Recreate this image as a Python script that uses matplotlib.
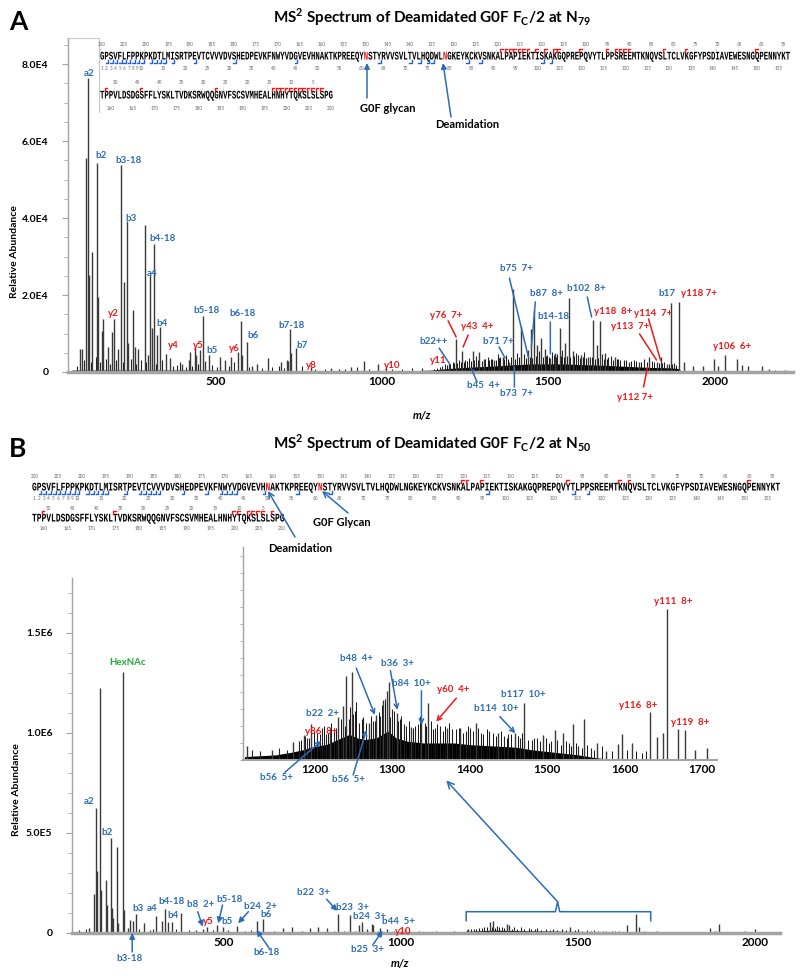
import matplotlib.pyplot as plt
import numpy as np
from matplotlib.font_manager import FontProperties
from matplotlib.patches import ConnectionPatch, PathPatch
from matplotlib.textpath import TextPath
from matplotlib.ticker import FixedLocator, FixedFormatter, MultipleLocator
from matplotlib.transforms import Affine2D

plt.rcParams["font.family"] = ["Lato", "DejaVu Sans"]
plt.rcParams["mathtext.fontset"] = "custom"
plt.rcParams["mathtext.rm"] = "Lato:bold"
plt.rcParams["mathtext.bf"] = "Lato:bold"

BLUE = "#2b6cb8"
RED = "#f01818"
GREEN = "#1fae3c"
GREY = "#a3a3a3"

# ---- sequence of Fc/2 ----
seq_row1 = ("GPSVFLFPPKPKDTLMISRTPEVTCVVVDVSHEDPEVKFNWYVDGVEVHNAKTKPREEQY"
            "NSTYRVVSVLTVLHQDWLNGKEYKCKVSNKALPAPIEKTISKAKGQPREPQVYTLPPSRE"
            "EMTKNQVSLTCLVKGFYPSDIAVEWESNGQPENNYKT")
seq_row2 = "TPPVLDSDGSFFLYSKLTVDKSRWQQGNVFSCSVMHEALHNHYTQKSLSLSPG"

red_n_a = [61, 79]
b_sites_a = [2, 3, 4, 5, 6, 7, 8, 9, 10, 12, 13, 14, 15, 17, 22, 31, 45, 64,
             71, 73, 75, 76, 84, 87, 101, 103]
y_sites_a = [92, 93, 94, 95, 96, 97, 98, 100, 102, 104, 105, 110, 116, 118,
             119, 120, 121, 129, 134, 150, 159, 167, 184, 197, 198, 199, 200,
             201, 202, 203, 204, 205, 206, 207, 208]

red_n_b = [50, 61]
b_sites_b = [2, 3, 4, 5, 6, 7, 8, 9, 10, 12, 13, 14, 15, 16, 20, 23, 24, 25,
             26, 27, 32, 37, 40, 41, 42, 43, 49, 56, 63, 96, 114, 117]
y_sites_b = [91, 92, 95, 113, 124, 126, 151, 160, 175, 200, 201, 203, 204,
             205, 206, 208]

# ---- panel A spectrum (m/z, abundance) ----
a1_mz = [93, 98, 111, 117, 121, 130, 145, 148, 159, 163, 177, 189, 196, 208,
         216, 226, 235, 238, 252, 258, 268, 287, 297, 304, 309, 315, 325, 334,
         351, 364]
a1_h = [6000, 6000, 55600, 76400, 25200, 31200, 54300, 19500, 10700, 13800,
        6500, 10400, 13800, 6000, 53800, 23400, 39300, 7500, 16100, 6500, 6000,
        38200, 4400, 25200, 11400, 33300, 9600, 11700, 4700, 3600]
a2_mz = [400, 419, 423, 438, 443, 453, 463, 470, 480, 515, 530, 548, 567, 576,
         580, 595, 611, 626, 657, 696, 714, 718, 724, 726, 743, 786, 846, 907,
         945, 987, 1012]
a2_h = [2000, 3000, 5200, 6500, 4400, 5700, 14600, 2900, 4400, 3900, 3100,
        3900, 5200, 13300, 4400, 7800, 1500, 2000, 3600, 2500, 3000, 2800,
        11200, 4900, 6200, 1200, 1000, 1200, 2900, 2200, 1500]
a3_mz = [1202, 1223, 1241, 1273, 1293, 1307, 1337, 1363, 1383, 1395, 1419,
         1439, 1447, 1457, 1467, 1479, 1489, 1506, 1519, 1534, 1549, 1562,
         1574, 1599, 1619, 1635, 1645, 1654, 1669, 1699]
a3_h = [2300, 8600, 5500, 5500, 5200, 3500, 3000, 3900, 2500, 21600, 12000,
        5700, 11200, 16100, 7000, 8800, 6000, 3600, 5000, 11400, 7500, 19200,
        5500, 4500, 4000, 13500, 7000, 13300, 5000, 3900]
a4_mz = [1741, 1771, 1801, 1825, 1837, 1855, 1868, 1894, 1909, 1936, 1966,
         1998, 2011, 2031, 2066, 2081, 2101, 2142, 2162, 2182, 2212]
a4_h = [2500, 2500, 3900, 2500, 3900, 2000, 17900, 18200, 2500, 1500, 1500,
        3400, 1500, 4400, 3400, 1800, 1600, 1500, 800, 500, 500]
a_grass_mz = [1180, 1190, 1213, 1232, 1250, 1262, 1283, 1300, 1318, 1328, 1348,
              1356, 1372, 1405, 1428, 1472, 1497, 1512, 1527, 1541, 1556, 1582,
              1590, 1608, 1626, 1662, 1680, 1688, 1710, 1726, 1757, 1788, 1812,
              1848, 1878]
a_grass_h = [1500, 2000, 2600, 3000, 3200, 3600, 4200, 2800, 4000, 3500, 4600,
             3800, 4400, 5000, 4800, 5400, 4400, 5200, 4600, 5800, 4200, 5000,
             4500, 5200, 4000, 4600, 3800, 4200, 3500, 3200, 3000, 3300, 2800,
             2600, 2400]
a_grass2_mz = [1158, 1166, 1174, 1196, 1206, 1218, 1227, 1237, 1246, 1257,
               1268, 1278, 1288, 1311, 1322, 1332, 1342, 1352, 1368, 1378,
               1389, 1401, 1411, 1433, 1444, 1452, 1462, 1484, 1494, 1502,
               1516, 1524, 1538, 1546, 1566, 1578, 1594, 1604, 1614, 1630,
               1640, 1650, 1666, 1675, 1693, 1705, 1716, 1733, 1748, 1764,
               1779, 1795, 1818, 1832, 1842, 1862, 1872, 1884]
a_grass2_h = [800, 1000, 1200, 1800, 2100, 2300, 2400, 2600, 2700, 2900, 2800,
              3100, 3000, 3300, 3100, 3400, 3200, 3600, 3300, 3500, 3900, 3400,
              3800, 3600, 4000, 3700, 4200, 3900, 4100, 3800, 4300, 3900, 4200,
              4000, 3800, 4100, 3700, 3900, 3600, 3800, 3500, 3700, 3400, 3500,
              3200, 3300, 3000, 3100, 2800, 2900, 2600, 2700, 2500, 2400, 2300,
              2200, 2100, 1900]
a_low_mz = [84, 105, 126, 140, 153, 170, 184, 200, 222, 245, 262, 275, 292,
            320, 340, 372, 383, 392, 410, 430, 448, 490, 505, 540, 555, 600,
            640, 670, 690, 705, 760, 800, 830, 870, 890, 925, 960, 1030, 1060,
            1090, 1120]
a_low_h = [1500, 3000, 2500, 4000, 2500, 3500, 2000, 3000, 2500, 3500, 2000,
           3000, 2500, 2000, 3000, 1500, 1800, 2500, 1200, 1500, 2000, 1800,
           1200, 1500, 2500, 1200, 1000, 1200, 1500, 1000, 1500, 800, 900, 700,
           800, 1200, 900, 800, 900, 1000, 1100]
env_a_mz = [57, 70, 400, 700, 1000, 1100, 1150, 1200, 1250, 1300, 1350, 1400,
            1450, 1500, 1550, 1600, 1650, 1700, 1750, 1800, 1860, 1890, 1900,
            2235]
env_a_h = [0, 500, 500, 350, 300, 350, 500, 900, 1200, 1400, 1600, 1900, 2100,
           2100, 2100, 1900, 1800, 1600, 1400, 1200, 1100, 900, 200, 150]

# ---- panel B spectrum ----
b1_mz = [120, 133, 138, 142, 150, 154, 166, 170, 180, 184, 187, 197, 201, 216,
         217, 230, 236, 244, 253, 274, 308, 324, 333, 343, 352, 379]
b1_h = [25000, 195000, 625000, 310000, 1225000, 215000, 265000, 140000,
        475000, 125000, 75000, 430000, 50000, 1305000, 115000, 25000, 65000,
        60000, 95000, 50000, 85000, 60000, 120000, 55000, 55000, 100000]
b2_mz = [420, 442, 451, 479, 498, 512, 538, 592, 611, 668, 691, 743, 766, 790,
         823, 856, 882, 889, 903, 917, 922, 941, 960, 1002, 1011]
b2_h = [15000, 20000, 30000, 40000, 30000, 15000, 35000, 60000, 70000, 25000,
        30000, 25000, 30000, 25000, 95000, 90000, 40000, 55000, 20000, 45000,
        40000, 25000, 20000, 15000, 20000]
b3_mz = [1251, 1261, 1298, 1305, 1477, 1638, 1663, 1673, 1722, 1746, 1774,
         1802, 1830, 1849, 1873, 1887, 1897, 1920, 1972, 2000, 2033]
b3_h = [55000, 60000, 45000, 40000, 30000, 40000, 95000, 30000, 8000, 6000,
        5000, 6000, 5000, 6000, 25000, 8000, 45000, 6000, 8000, 20000, 5000]
b_grass_mz = [1190, 1205, 1220, 1235, 1270, 1285, 1320, 1340, 1360, 1385, 1410,
              1430, 1455, 1500, 1525, 1545, 1570, 1595, 1615]
b_grass_h = [20000, 22000, 25000, 30000, 35000, 30000, 30000, 28000, 25000,
             24000, 22000, 20000, 20000, 18000, 16000, 15000, 12000, 10000,
             8000]
b_grass2_mz = [1185, 1198, 1212, 1228, 1242, 1256, 1266, 1278, 1292, 1312,
               1328, 1348, 1368, 1378, 1395, 1420, 1440, 1465, 1490, 1512,
               1535, 1555, 1580, 1605, 1625, 1650, 1685]
b_grass2_h = [15000, 18000, 20000, 24000, 28000, 30000, 26000, 28000, 24000,
              22000, 20000, 22000, 20000, 18000, 17000, 16000, 15000, 14000,
              13000, 12000, 11000, 10000, 9000, 8000, 7000, 6000, 8000]
b_low_mz = [90, 110, 260, 290, 300, 365, 400, 470, 560, 575, 640, 720, 810,
            840, 870, 935, 980, 1050, 1100, 1150]
b_low_h = [15000, 20000, 20000, 15000, 20000, 20000, 15000, 15000, 10000,
           15000, 10000, 10000, 12000, 10000, 12000, 12000, 10000, 8000, 8000,
           8000]
env_b_mz = [71, 90, 200, 600, 1000, 1150, 1180, 1230, 1260, 1300, 1350, 1400,
            1450, 1500, 1560, 1600, 1700, 1720, 2070]
env_b_h = [0, 6000, 6000, 5000, 5000, 5000, 8000, 12000, 14000, 13000, 11000,
           10000, 9000, 8000, 6000, 4000, 3000, 1500, 1000]

# ---- panel B inset (zoom 1100-1720) ----
ins_mz = [1113, 1145, 1173, 1186, 1196, 1220, 1231, 1237, 1241, 1248, 1271,
          1280, 1289, 1294, 1296, 1306, 1325, 1338, 1347, 1371, 1388, 1408,
          1437, 1459, 1470, 1495, 1510, 1521, 1534, 1548, 1564, 1576, 1591,
          1596, 1609, 1633, 1642, 1650, 1655, 1669, 1678, 1691, 1706]
ins_h = [0.82, 0.59, 1.08, 1.47, 2.1, 1.86, 2.55, 3.14, 4.94, 5.14, 2.16,
         2.65, 3.53, 4.02, 4.55, 2.78, 1.96, 2.35, 3.37, 1.86, 1.86, 2.16,
         1.57, 1.57, 3.37, 1.47, 1.76, 1.57, 2.1, 2.39, 1.0, 0.55, 0.94, 1.5,
         1.0, 2.84, 1.37, 1.57, 8.86, 1.8, 1.76, 0.59, 0.69]
ins_grass_mz = [1120, 1130, 1155, 1165, 1180, 1190, 1203, 1210, 1215, 1225,
                1244, 1252, 1258, 1263, 1276, 1285, 1300, 1310, 1315, 1330,
                1342, 1355, 1362, 1378, 1395, 1400, 1415, 1425, 1445, 1450,
                1465, 1480, 1487, 1505, 1528, 1540, 1556]
ins_grass_h = [0.6, 0.5, 0.7, 0.6, 1.1, 1.3, 1.6, 1.9, 1.5, 1.8, 2.4, 2.9, 2.2,
               2.5, 2.3, 2.6, 3.0, 2.4, 2.1, 2.0, 2.2, 1.9, 2.0, 1.8, 1.7, 1.9,
               1.6, 1.7, 1.4, 1.5, 1.3, 1.2, 1.3, 1.1, 1.0, 0.8, 0.7]
ins_grass2_mz = [1183, 1188, 1193, 1199, 1207, 1212, 1218, 1222, 1228, 1234,
                 1239, 1246, 1250, 1254, 1261, 1267, 1273, 1278, 1283, 1287,
                 1291, 1298, 1303, 1308, 1312, 1318, 1322, 1327, 1333, 1336,
                 1344, 1350, 1353, 1358, 1366, 1369, 1374, 1382, 1386, 1391,
                 1398, 1404, 1411, 1418, 1422, 1430, 1434, 1441, 1448, 1453,
                 1462, 1467, 1475, 1483, 1491, 1498, 1502, 1513, 1518, 1525,
                 1531, 1537, 1545, 1552, 1560, 1571, 1584, 1603, 1615, 1622,
                 1628]
ins_grass2_h = [1.2, 1.4, 1.3, 1.7, 1.5, 2.0, 1.6, 2.2, 1.9, 2.4, 2.0, 3.1,
                2.7, 3.4, 2.4, 2.2, 2.6, 2.3, 2.8, 3.2, 3.6, 2.5, 2.9, 2.3,
                2.6, 2.0, 2.3, 1.9, 2.1, 2.6, 2.0, 2.3, 1.8, 2.1, 1.7, 2.0,
                2.2, 1.8, 1.9, 1.6, 2.0, 1.7, 1.9, 1.5, 1.8, 1.6, 1.4, 1.7,
                1.3, 1.5, 1.4, 1.6, 1.2, 1.3, 1.1, 1.3, 1.0, 1.2, 0.9, 1.1,
                0.8, 1.0, 0.7, 0.9, 0.6, 0.8, 0.5, 0.6, 0.5, 0.4, 0.5]
env_in_mz = [1110, 1150, 1170, 1185, 1200, 1215, 1230, 1245, 1255, 1265, 1280,
             1295, 1305, 1320, 1340, 1360, 1380, 1400, 1420, 1440, 1460, 1480,
             1500, 1520, 1540, 1560, 1580, 1600, 1719]
env_in_h = [0.2, 0.3, 0.45, 0.6, 0.8, 0.9, 1.2, 1.5, 1.3, 1.2, 1.3, 1.7, 1.3,
            1.1, 1.0, 1.0, 1.0, 0.9, 0.85, 0.8, 0.75, 0.6, 0.5, 0.4, 0.3, 0.15,
            0.05, 0.03, 0.03]

# ---- fragment labels (text, m/z, height, colour) ----
labels_a = [
    ("a2", 120, 77700, BLUE), ("b2", 157, 56200, BLUE),
    ("b3-18", 238, 54900, BLUE), ("b3", 246, 40000, BLUE),
    ("b4-18", 340, 34800, BLUE), ("a4", 309, 25500, BLUE),
    ("y2", 193, 15100, RED), ("b4", 340, 12500, BLUE),
    ("y4", 373, 7000, RED), ("y5", 449, 7000, RED),
    ("b5", 491, 5700, BLUE), ("b5-18", 473, 15900, BLUE),
    ("y6", 557, 6200, RED), ("b6-18", 580, 15300, BLUE),
    ("b6", 614, 9600, BLUE), ("b7-18", 729, 12200, BLUE),
    ("b7", 759, 7000, BLUE), ("y8", 789, 1600, RED),
    ("y10", 1030, 1600, RED), ("y11", 1169, 3100, RED),
    ("b22++", 1154, 7800, BLUE), ("y76  7+", 1193, 14800, RED),
    ("y43  4+", 1286, 11700, RED), ("b71 7+", 1349, 7800, BLUE),
    ("b75  7+", 1404, 27000, BLUE), ("b73  7+", 1404, -5500, BLUE),
    ("b45  4+", 1304, -3600, BLUE), ("b87  8+", 1494, 20500, BLUE),
    ("b14-18", 1515, 14300, BLUE), ("b102  8+", 1614, 21600, BLUE),
    ("y118  8+", 1696, 15600, RED), ("y113  7+", 1747, 11700, RED),
    ("y114  7+", 1816, 15100, RED), ("b17", 1855, 20500, BLUE),
    ("y118 7+", 1952, 20500, RED), ("y106  6+", 2051, 6500, RED),
    ("y112 7+", 1759, -6500, RED),
]
leaders_a = [
    (1172, 6200, 1202, 2300, BLUE), (1199, 13300, 1223, 9100, RED),
    (1259, 9600, 1244, 6500, RED), (1352, 6500, 1370, 3600, BLUE),
    (1383, 24400, 1440, 3900, BLUE), (1398, 1300, 1398, -3900, BLUE),
    (1268, 1000, 1286, -2600, BLUE), (1461, 18200, 1449, 6500, BLUE),
    (1506, 13000, 1506, 4700, BLUE), (1617, 19500, 1630, 14300, BLUE),
    (1774, 9900, 1825, 3100, RED), (1801, 13800, 1837, 3100, RED),
    (1798, 1300, 1786, -3900, RED),
]
labels_b = [
    ("a2", 120, 657500, BLUE), ("HexNAc", 228, 1351500, GREEN),
    ("b2", 170, 501500, BLUE), ("b3", 256, 121500, BLUE),
    ("a4", 297, 121500, BLUE), ("b4-18", 353, 155000, BLUE),
    ("b4", 355, 85000, BLUE), ("b3-18", 234, -128500, BLUE),
    ("b8  2+", 435, 141500, BLUE), ("y5", 456, 56500, RED),
    ("b5-18", 517, 165000, BLUE), ("b5", 508, 55000, BLUE),
    ("b24  2+", 602, 131500, BLUE), ("b6", 619, 91500, BLUE),
    ("b6-18", 621, -98500, BLUE), ("b22  3+", 752, 201500, BLUE),
    ("b23  3+", 864, 126500, BLUE), ("b24  3+", 912, 81500, BLUE),
    ("b44  5+", 992, 55000, BLUE), ("y10", 1006, 5000, RED),
    ("b25  3+", 906, -80000, BLUE),
]
arrows_b = [
    (241, -95000, 241, 0, BLUE), (426, 106500, 440, 31500, BLUE),
    (496, 140000, 484, 48500, BLUE), (569, 106500, 540, 48500, BLUE),
    (628, -76500, 592, 15000, BLUE), (790, 168500, 820, 110000, BLUE),
    (920, -60000, 948, 11500, BLUE),
]
labels_in = [
    ("y111  8+", 1662, 9.28, RED), ("y116  8+", 1617, 3.19, RED),
    ("y119  8+", 1684, 2.18, RED), ("b117  10+", 1469, 3.86, BLUE),
    ("b114  10+", 1435, 3.0, BLUE), ("y60  4+", 1379, 4.16, RED),
    ("b84  10+", 1325, 4.47, BLUE), ("b36  3+", 1307, 5.69, BLUE),
    ("b48  4+", 1254, 5.94, BLUE), ("b22  2+", 1211, 2.72, BLUE),
    ("y86  8+", 1209, 1.69, RED), ("b56  5+", 1151, -1.02, BLUE),
    ("b56  5+", 1244, -1.14, BLUE),
]
arrows_in = [
    (1439, 2.55, 1459, 1.57, BLUE), (1383, 3.63, 1357, 2.25, RED),
    (1338, 4.06, 1338, 2.06, BLUE), (1298, 5.25, 1307, 2.94, BLUE),
    (1254, 5.39, 1278, 2.65, BLUE), (1162, -0.72, 1209, 1.12, BLUE),
    (1250, -0.88, 1267, 1.76, BLUE),
]


def sticks(ax, mz, h, color="#3a3a3a", lw=1.0):
    ax.vlines(mz, 0, h, color=color, lw=lw)


def style_axis(ax, xlim, ylim, xticks, yticks=None, yticklabels=None,
               yminor=None, bottom_lw=2.5, xfs=8.5):
    ax.set_xlim(*xlim)
    ax.set_ylim(*ylim)
    for s in ("top", "right"):
        ax.spines[s].set_visible(False)
    ax.spines["left"].set_color(GREY)
    ax.spines["left"].set_linewidth(1.0)
    ax.spines["bottom"].set_color(GREY)
    ax.spines["bottom"].set_linewidth(bottom_lw)
    ax.set_xticks(xticks)
    ax.set_xticklabels([str(t) for t in xticks], fontweight="bold",
                       fontsize=xfs)
    ax.tick_params(axis="x", length=0, pad=3)
    if yticks is not None:
        ax.yaxis.set_major_locator(FixedLocator(yticks))
        ax.yaxis.set_major_formatter(FixedFormatter(yticklabels))
    else:
        ax.set_yticks([])
    if yminor:
        ax.yaxis.set_minor_locator(MultipleLocator(yminor))
    ax.tick_params(axis="y", which="both", color=GREY, direction="out")
    ax.tick_params(axis="y", which="major", length=4, pad=10, labelsize=7.5)
    ax.tick_params(axis="y", which="minor", length=3)
    for t in ax.get_yticklabels():
        t.set_fontweight("bold")
    ax.patch.set_alpha(0)


def put_labels(ax, labels):
    for txt, x, y, c in labels:
        ax.text(x, y, txt, color=c, fontsize=7, fontweight="bold",
                ha="center", va="center", clip_on=False)


def put_arrows(ax, arrows, style):
    for x1, y1, x2, y2, c in arrows:
        ax.annotate("", xy=(x2, y2), xytext=(x1, y1), annotation_clip=False,
                    arrowprops=dict(arrowstyle=style, color=c, lw=1.1,
                                    shrinkA=0, shrinkB=0, mutation_scale=8))


fig = plt.figure(figsize=(8, 9.76), dpi=100)

# ---------------- panel A ----------------
axA = fig.add_axes([68 / 800, 1 - 372 / 976, 725 / 800, 334 / 976])
axA.fill_between(env_a_mz, env_a_h, color="black", lw=0)
sticks(axA, a_low_mz, a_low_h, color="#222222", lw=0.8)
sticks(axA, a_grass_mz, a_grass_h, color="#222222", lw=0.8)
sticks(axA, a_grass2_mz, a_grass2_h, color="#111111", lw=0.7)
for mz, h in ((a1_mz, a1_h), (a2_mz, a2_h), (a3_mz, a3_h), (a4_mz, a4_h)):
    sticks(axA, mz, h)
style_axis(axA, (57, 2235), (0, 86800), [500, 1000, 1500, 2000],
           [0, 20000, 40000, 60000, 80000],
           ["0", "2.0E4", "4.0E4", "6.0E4", "8.0E4"], yminor=5000)
put_labels(axA, labels_a)
put_arrows(axA, leaders_a, "-")

# ---------------- panel B ----------------
axB = fig.add_axes([72 / 800, 1 - 933 / 976, 708 / 800, 355 / 976])
axB.fill_between(env_b_mz, env_b_h, color="black", lw=0)
sticks(axB, b_low_mz, b_low_h, color="#222222", lw=0.8)
sticks(axB, b_grass_mz, b_grass_h, color="#222222", lw=0.8)
sticks(axB, b_grass2_mz, b_grass2_h, color="#111111", lw=0.7)
for mz, h in ((b1_mz, b1_h), (b2_mz, b2_h), (b3_mz, b3_h)):
    sticks(axB, mz, h)
style_axis(axB, (71, 2070), (0, 1775000), [500, 1000, 1500, 2000],
           [0, 500000, 1000000, 1500000], ["0", "5.0E5", "1.0E6", "1.5E6"],
           yminor=100000)
put_labels(axB, labels_b)
put_arrows(axB, arrows_b, "-|>")
# bracket marking the zoomed region
axB.plot([1184, 1184, 1436, 1442, 1448, 1705, 1705],
         [61500, 106500, 106500, 156500, 106500, 106500, 61500],
         color=BLUE, lw=1.1, clip_on=False)

# ---------------- inset ----------------
axI = fig.add_axes([243 / 800, 1 - 760 / 976, 474 / 800, 213 / 976])
axI.set_zorder(2)
axI.fill_between(env_in_mz, env_in_h, color="black", lw=0)
sticks(axI, ins_grass_mz, ins_grass_h, color="#222222", lw=0.8)
sticks(axI, ins_grass2_mz, ins_grass2_h, color="#111111", lw=0.7)
sticks(axI, ins_mz, ins_h)
style_axis(axI, (1108, 1719), (0, 12.5), [1200, 1300, 1400, 1500, 1600, 1700],
           yminor=1, bottom_lw=1.5, xfs=8.5)
axI.tick_params(axis="y", which="minor", length=2.5)
axI.patch.set_alpha(1)
axI.patch.set_facecolor("white")
put_labels(axI, labels_in)
put_arrows(axI, arrows_in, "->")

con = ConnectionPatch(xyA=(1442, 156500), coordsA=axB.transData,
                      xyB=(1370, -1.2), coordsB=axI.transData,
                      arrowstyle="->", color=BLUE, lw=1.1, mutation_scale=12)
fig.add_artist(con)

# ---------------- overlay (sequence maps, titles) ----------------
ov = fig.add_axes([0, 0, 1, 1])
ov.set_xlim(0, 800)
ov.set_ylim(976, 0)
ov.axis("off")
ov.set_zorder(3)
ov.patch.set_alpha(0)

mono = FontProperties(family="Liberation Mono", weight="bold")


def text_path(s, x0, y, cw, ch, color):
    tp = TextPath((0, 0), s, size=1, prop=mono)
    tr = Affine2D().scale(cw / 0.6, -ch / 0.6).translate(x0, y + ch / 2)
    ov.add_patch(PathPatch(tr.transform_path(tp), facecolor=color, lw=0))


def draw_seq(x0, y1, y2, cw, red_n, b_sites, y_sites, gap):
    n1 = len(seq_row1)
    rows = ((seq_row1, y1, 1), (seq_row2, y2, n1 + 1))
    for row, y, start in rows:
        blk = "".join(" " if start + k in red_n else c for k, c in enumerate(row))
        red = "".join(c if start + k in red_n else " " for k, c in enumerate(row))
        text_path(blk, x0, y, cw, 7, "black")
        if red.strip():
            text_path(red, x0, y, cw, 7, RED)
        for k in range(len(row)):
            p = start + k
            xc = x0 + (k + 0.5) * cw
            if p <= 10 or p % 5 == 0:
                ov.text(xc, y + gap + 1, str(p), fontsize=3.3, color="0.4",
                        ha="center", va="center")
            if (211 - p) % 5 == 0:
                ov.text(xc, y - gap, str(211 - p), fontsize=3.3, color="0.4",
                        ha="center", va="center")
                ov.plot([xc - cw * 0.4] * 2, [y - gap + 2.5, y - 5],
                        color="0.6", lw=0.4, ls=":")
    bx, by, yx, yy = [], [], [], []
    for p in b_sites:
        y, k = (y1, p - 1) if p <= n1 else (y2, p - n1 - 1)
        xr = x0 + (k + 1) * cw - 0.3
        bx += [xr, xr, xr - 2.6, np.nan]
        by += [y + 4.2, y + 7.2, y + 7.2, np.nan]
    for p in y_sites:
        y, k = (y1, p - 1) if p <= n1 else (y2, p - n1 - 1)
        xl = x0 + k * cw + 0.3
        yx += [xl, xl, xl + 2.6, np.nan]
        yy += [y - 4.2, y - 7.2, y - 7.2, np.nan]
    ov.plot(bx, by, color="#1f5fe0", lw=1.0)
    ov.plot(yx, yy, color=RED, lw=1.0)


# panel A sequence
ov.plot([68, 99, 99], [38, 38, 112], color="#c8c8c8", lw=0.8)
draw_seq(100, 56, 95, 690 / 157, red_n_a, b_sites_a, y_sites_a, 12)
ov.text(388, 108, "G0F glycan", fontsize=8, fontweight="bold",
        ha="center", va="center")
ov.text(467, 125, "Deamidation", fontsize=8, fontweight="bold",
        ha="center", va="center")
for (x1, y1, x2, y2) in ((367, 98, 367, 63), (451, 117, 443, 63)):
    ov.annotate("", xy=(x2, y2), xytext=(x1, y1),
                arrowprops=dict(arrowstyle="-|>", color=BLUE, lw=1.1,
                                shrinkA=0, shrinkB=0, mutation_scale=8))

# panel B sequence
draw_seq(32, 487, 518, 748 / 157, red_n_b, b_sites_b, y_sites_b, 10)
ov.text(300, 548, "Deamidation", fontsize=8, fontweight="bold",
        ha="center", va="center")
ov.text(342, 523, "G0F Glycan", fontsize=8, fontweight="bold",
        ha="center", va="center")
for (x1, y1, x2, y2) in ((295, 537, 268, 491), (348, 513, 322, 491)):
    ov.annotate("", xy=(x2, y2), xytext=(x1, y1),
                arrowprops=dict(arrowstyle="->", color=BLUE, lw=1.1,
                                shrinkA=0, shrinkB=0, mutation_scale=10))

# titles, panel letters, axis titles
ov.text(432, 17, r"MS$^{\mathbf{2}}$ Spectrum of Deamidated G0F F$_{\mathbf{C}}$/2 at N$_{\mathbf{79}}$",
        fontsize=11, fontweight="bold", ha="center", va="center")
ov.text(432, 443, r"MS$^{\mathbf{2}}$ Spectrum of Deamidated G0F F$_{\mathbf{C}}$/2 at N$_{\mathbf{50}}$",
        fontsize=11, fontweight="bold", ha="center", va="center")
ov.text(18, 22, "A", fontsize=19, fontweight="bold", ha="center", va="center")
ov.text(18, 449, "B", fontsize=19, fontweight="bold", ha="center", va="center")
ov.text(15, 252, "Relative Abundance", fontsize=7.5, fontweight="bold",
        rotation=90, ha="center", va="center")
ov.text(17, 790, "Relative Abundance", fontsize=7.5, fontweight="bold",
        rotation=90, ha="center", va="center")
ov.text(422, 415, "m/z", fontsize=8, fontweight="bold", style="italic",
        ha="center", va="center")
ov.text(400, 963, "m/z", fontsize=8, fontweight="bold", style="italic",
        ha="center", va="center")

fig.savefig("out.png", dpi=100)
